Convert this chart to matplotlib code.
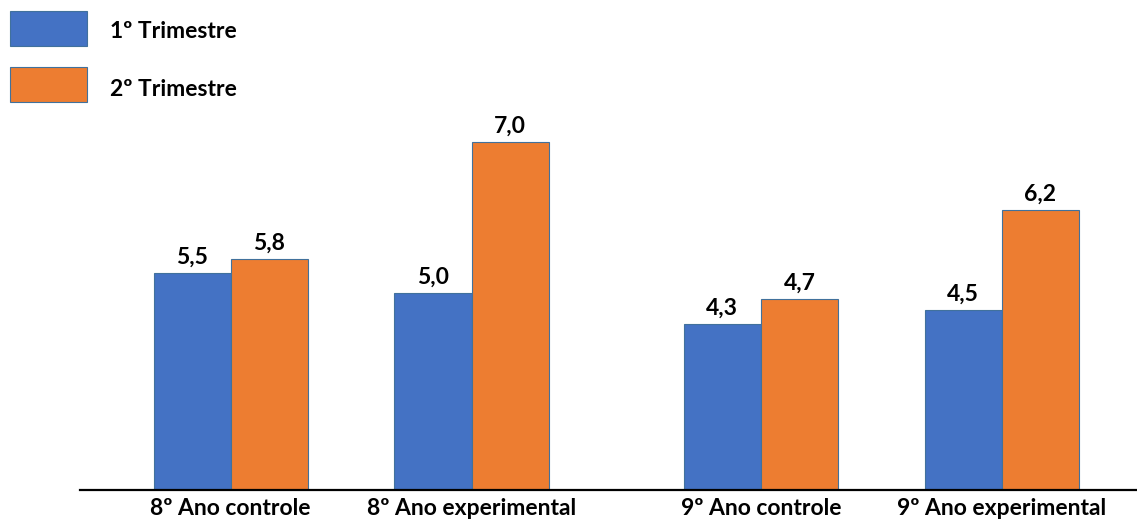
import numpy as np
import matplotlib
matplotlib.use("Agg")
import matplotlib.pyplot as plt
from matplotlib.patches import Rectangle

# dados
grupos = ["8º Ano controle", "8º Ano experimental", "9º Ano controle", "9º Ano experimental"]
posicoes = [0, 1, 2.2, 3.2]
series = ["1º Trimestre", "2º Trimestre"]
# altura das barras tal como desenhadas (as duas barras laranja "experimental" estao mais altas que o rotulo)
altura_t1 = [5.48, 4.97, 4.19, 4.55]
altura_t2 = [5.83, 8.79, 4.82, 7.07]
# rotulos escritos acima das barras
rotulo_t1 = ["5,5", "5,0", "4,3", "4,5"]
rotulo_t2 = ["5,8", "7,0", "4,7", "6,2"]

cores = ["#4472C4", "#ED7D31"]
borda = "#41719C"

plt.rcParams['font.family'] = ['Lato', 'DejaVu Sans']
tam = 16.5

fig = plt.figure(figsize=(11.37, 5.23), dpi=100)
ax = fig.add_axes([80 / 1137, 33 / 523, 1057 / 1137, 490 / 523])

x = np.array(posicoes)
w = 0.32
b1 = ax.bar(x - w / 2, altura_t1, width=w, color=cores[0], edgecolor=borda, linewidth=0.8)
b2 = ax.bar(x + w / 2, altura_t2, width=w, color=cores[1], edgecolor=borda, linewidth=0.8)

for barras, rots in [(b1, rotulo_t1), (b2, rotulo_t2)]:
    for bar, r in zip(barras, rots):
        ax.annotate(r, (bar.get_x() + bar.get_width() / 2, bar.get_height()),
                    xytext=(0, 4), textcoords="offset points",
                    ha="center", va="bottom", fontsize=tam, fontweight="bold")

ax.set_xlim(-0.625, 3.761)
ax.set_ylim(0, 12.37)
ax.set_xticks(x)
ax.set_xticklabels(grupos, fontsize=tam, fontweight="bold")
ax.tick_params(axis="x", length=0, pad=6)
ax.set_yticks([])
for s in ["top", "right", "left"]:
    ax.spines[s].set_visible(False)
ax.spines["bottom"].set_linewidth(1.6)

# legenda manual no canto superior esquerdo
for i, (nome, cor) in enumerate(zip(series, cores)):
    y0 = 1 - (46 + 56 * i) / 523
    fig.add_artist(Rectangle((10 / 1137, y0), 77 / 1137, 35 / 523,
                             transform=fig.transFigure, facecolor=cor,
                             edgecolor=borda, linewidth=0.8))
    fig.text(110 / 1137, 1 - (31 + 58 * i) / 523, nome, fontsize=tam, fontweight="bold",
             va="center", ha="left")

fig.savefig("out.png", dpi=100)
